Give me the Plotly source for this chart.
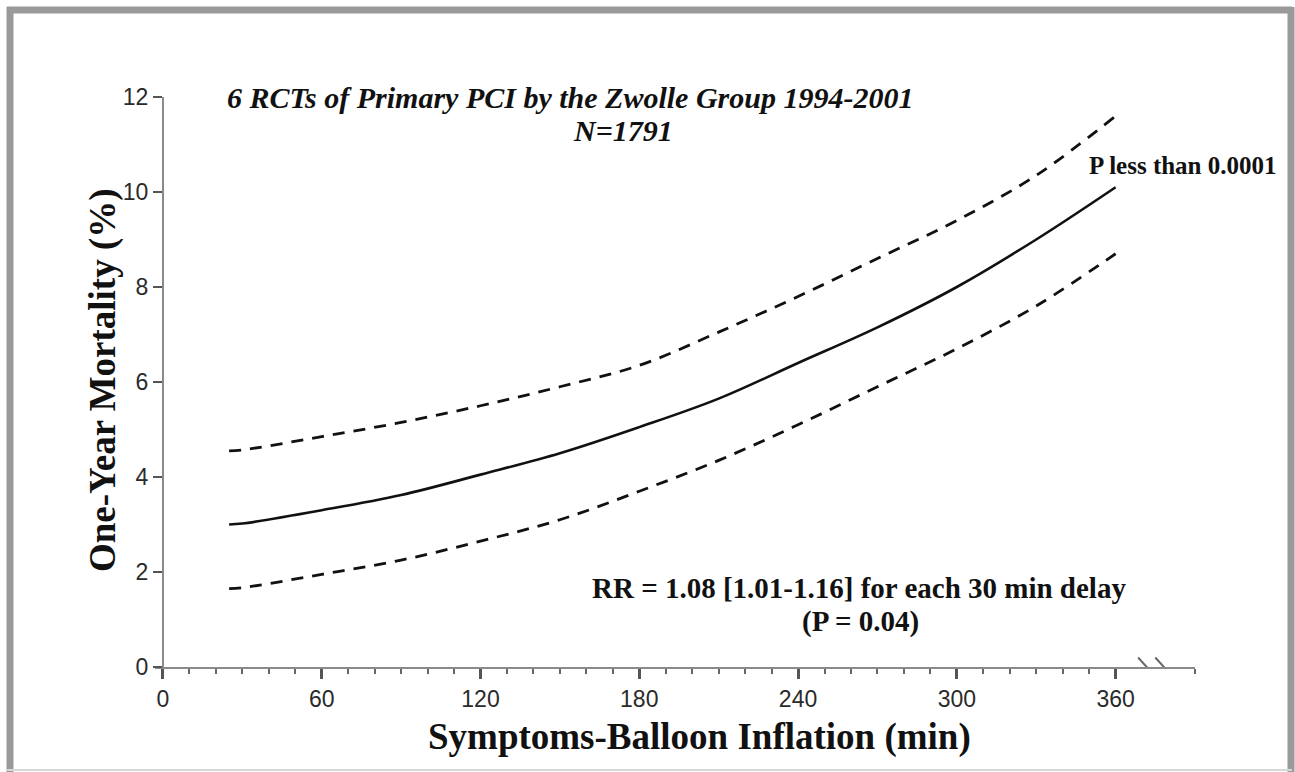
import plotly.graph_objects as go

# delay from symptom onset to balloon inflation (min)
delay = [25, 30, 60, 90, 120, 150, 180, 210, 240, 270, 300, 330, 360]
# one-year mortality (%) - fitted curve and 95% CI
mortality = [3.0, 3.02, 3.3, 3.62, 4.05, 4.5, 5.05, 5.65, 6.4, 7.15, 8.0, 9.0, 10.1]
upper_ci = [4.55, 4.57, 4.85, 5.15, 5.5, 5.9, 6.35, 7.05, 7.8, 8.6, 9.4, 10.35, 11.6]
lower_ci = [1.65, 1.67, 1.95, 2.25, 2.65, 3.1, 3.7, 4.35, 5.1, 5.9, 6.7, 7.6, 8.7]

x_ticks = [0, 60, 120, 180, 240, 300, 360]
y_ticks = [0, 2, 4, 6, 8, 10, 12]

W, H = 1295, 772
L, R, T, B = 155, W - 1195, 97, H - 667
PW, PH = W - L - R, H - T - B


def px(x):
    return (x - L) / PW


def py(y):
    return (H - B - y) / PH


fig = go.Figure()

fig.add_trace(go.Scatter(x=delay, y=upper_ci, mode='lines',
                         line=dict(color='#111', width=2.8, dash='12px,9px', shape='spline'),
                         showlegend=False))
fig.add_trace(go.Scatter(x=delay, y=mortality, mode='lines',
                         line=dict(color='#111', width=2.6, shape='spline'),
                         showlegend=False))
fig.add_trace(go.Scatter(x=delay, y=lower_ci, mode='lines',
                         line=dict(color='#111', width=2.8, dash='12px,9px', shape='spline'),
                         showlegend=False))

axis_col = '#8a8a8a'
minor_vals = [v for v in range(10, 360, 10) if v % 60] + [390]
tick_font = dict(family='Liberation Sans, Arial', size=23, color='#2a2a2a')

fig.update_xaxes(range=[-3, 390], tickvals=x_ticks, ticks='outside', ticklen=10,
                 tickwidth=2.5, tickcolor='#555', showline=True, linecolor=axis_col,
                 linewidth=2, showgrid=False, zeroline=False, tickfont=tick_font,
                 minor=dict(tickvals=minor_vals, ticks='outside', ticklen=5,
                            tickwidth=1.5, tickcolor='#666'))
fig.update_yaxes(range=[0, 12], tickvals=y_ticks, ticks='outside', ticklen=9,
                 tickwidth=1.5, tickcolor='#555', showline=True, linecolor=axis_col,
                 linewidth=2, showgrid=False, zeroline=False,
                 anchor='free', position=3 / 393, tickfont=tick_font)

serif = 'Liberation Serif, Times New Roman, serif'
notes = [
    ('<b><i>6 RCTs of Primary PCI by the Zwolle Group 1994-2001</i></b>', 570, 97, 30, 0),
    ('<b><i>N=1791</i></b>', 623, 131, 30, 0),
    ('<b>P less than 0.0001</b>', 1183, 165, 25, 0),
    ('<b>RR = 1.08 [1.01-1.16] for each 30 min delay</b>', 859, 588, 29, 0),
    ('<b>(P = 0.04)</b>', 860, 621, 29, 0),
    ('<b>Symptoms-Balloon Inflation (min)</b>', 699, 737, 37, 0),
    ('<b>One-Year Mortality (%)</b>', 103, 380, 37, -90),
]
for text, x, y, size, ang in notes:
    fig.add_annotation(text=text, x=px(x), y=py(y), xref='paper', yref='paper',
                       showarrow=False, xanchor='center', yanchor='middle',
                       textangle=ang, font=dict(family=serif, size=size, color='#111'))

# axis break marks
for x0 in [368.5, 375]:
    fig.add_shape(type='line', x0=x0, x1=x0 + 6.5, y0=0.2, y1=-0.2,
                  xref='x', yref='y', line=dict(color='#666', width=2))

# grey frame
frame = '#9a9a9a'
fig.add_shape(type='line', xref='paper', yref='paper', x0=px(10), x1=px(10),
              y0=py(7), y1=py(772), line=dict(color=frame, width=7))
fig.add_shape(type='line', xref='paper', yref='paper', x0=px(7), x1=px(1292),
              y0=py(10), y1=py(10), line=dict(color=frame, width=7))
fig.add_shape(type='line', xref='paper', yref='paper', x0=px(1291), x1=px(1291),
              y0=py(7), y1=py(772), line=dict(color=frame, width=7))
fig.add_shape(type='line', xref='paper', yref='paper', x0=px(7), x1=px(1292),
              y0=py(770), y1=py(770), line=dict(color='#d8d8d8', width=2))

fig.update_layout(width=W, height=H, margin=dict(l=L, r=R, t=T, b=B),
                  paper_bgcolor='white', plot_bgcolor='white', showlegend=False)

fig.write_html("out.html", config={'displayModeBar': False},
               post_script="document.body.style.margin='0';")
